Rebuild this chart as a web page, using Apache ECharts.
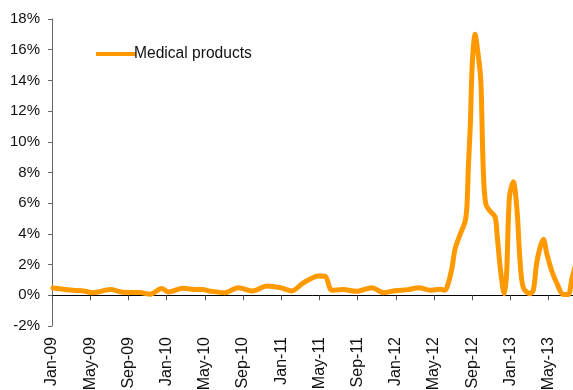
<!DOCTYPE html>
<html>
<head>
<meta charset="utf-8">
<script src="https://cdn.jsdelivr.net/npm/echarts@6/dist/echarts.min.js"></script>
<style>html,body{margin:0;padding:0;background:#fff}#c{width:573px;height:390px}</style>
</head>
<body>
<div id="c"></div>
<script>
// x positions in months since Jan-09
var months = [0.1, 2.2, 3.3, 4.3, 6.1, 7.4, 9.2, 10.3, 11.5, 12.2, 13.7, 15.2, 15.8, 16.5, 18.1, 19.5, 21.0, 22.5, 23.9, 25.1,
  26.3, 27.9, 28.6, 29.3, 30.5, 31.9, 33.5, 34.7, 35.9, 37.3, 38.4, 39.6, 40.6, 41.15, 41.5, 41.9, 42.2, 42.7, 43.25, 43.45,
  43.6, 43.8, 44.0, 44.3, 44.6, 44.9, 45.1, 45.25, 45.45, 45.85, 46.4, 46.6, 46.9, 47.2, 47.36, 47.6, 47.9, 48.3, 48.7, 49.0,
  49.35, 50.05, 50.4, 50.75, 51.1, 51.45, 51.8, 52.3, 52.85, 53.55, 54.06, 54.42, 54.9];
var medicalProducts = [0.48, 0.33, 0.28, 0.17, 0.37, 0.2, 0.18, 0.07, 0.44, 0.22, 0.46, 0.37, 0.37, 0.28, 0.17, 0.5, 0.28, 0.61, 0.5, 0.28,
  0.8, 1.26, 1.24, 0.33, 0.37, 0.26, 0.5, 0.17, 0.3, 0.37, 0.5, 0.33, 0.4, 0.33, 0.8, 1.85, 3.0, 3.9, 4.8, 5.8,
  8.4, 11.0, 15.0, 17.0, 15.8, 14.0, 9.3, 7.0, 5.9, 5.5, 5.1, 4.0, 2.0, 0.5, 0.1, 1.4, 6.4, 7.4, 5.5, 2.3,
  0.5, 0.1, 0.33, 2.1, 3.1, 3.65, 2.75, 1.65, 0.8, 0.05, 0.05, 1.0, 2.2];
var tickLabels = ['Jan-09', 'May-09', 'Sep-09', 'Jan-10', 'May-10', 'Sep-10', 'Jan-11', 'May-11', 'Sep-11',
  'Jan-12', 'May-12', 'Sep-12', 'Jan-13', 'May-13'];
var seriesName = 'Medical products';

var pts = months.map(function (m, i) { return [m, medicalProducts[i]]; });
var font = "'Liberation Sans', Arial, sans-serif";
var chart = echarts.init(document.getElementById('c'), null, {renderer: 'canvas'});
var xCommon = {type: 'value', min: 0, max: 56, interval: 4, splitLine: {show: false}};
chart.setOption({
  animation: false,
  backgroundColor: '#fff',
  grid: {left: 52, top: 19, bottom: 64, right: -13.8, containLabel: false, outerBoundsMode: 'none'},
  legend: {
    data: [{name: seriesName, icon: 'rect'}],
    left: 91, top: 41, itemWidth: 40, itemHeight: 4, itemGap: 0,
    textStyle: {fontFamily: font, fontSize: 15.6, color: '#111', padding: [0, 0, 0, -7]}
  },
  xAxis: [
    Object.assign({}, xCommon, {
      position: 'bottom',
      axisLine: {show: true, onZero: true, lineStyle: {color: '#000', width: 1}},
      axisTick: {show: true, length: 5, lineStyle: {color: '#555'}},
      axisLabel: {show: false}
    }),
    Object.assign({}, xCommon, {
      position: 'bottom',
      axisLine: {show: false, onZero: false},
      axisTick: {show: false},
      axisLabel: {
        show: true, rotate: 90, margin: 11, fontSize: 16, fontFamily: font, color: '#111',
        formatter: function (v) { var i = v / 4; return (Math.abs(i - Math.round(i)) < 1e-6 && tickLabels[Math.round(i)]) || ''; }
      }
    })
  ],
  yAxis: {
    type: 'value', min: -2, max: 18, interval: 2,
    splitLine: {show: false},
    axisLine: {show: true, lineStyle: {color: '#666'}},
    axisTick: {show: true, length: 4, inside: false, lineStyle: {color: '#666'}},
    axisLabel: {fontSize: 15, fontFamily: font, color: '#111', margin: 12, formatter: function (v) { return v + '%'; }}
  },
  series: [{
    name: seriesName, type: 'line', xAxisIndex: 0, data: pts,
    smooth: 0.3, showSymbol: false, symbol: 'none',
    itemStyle: {color: '#FF9900'},
    lineStyle: {color: '#FF9900', width: 5, join: 'round', cap: 'round'}
  }]
});
</script>
</body>
</html>
